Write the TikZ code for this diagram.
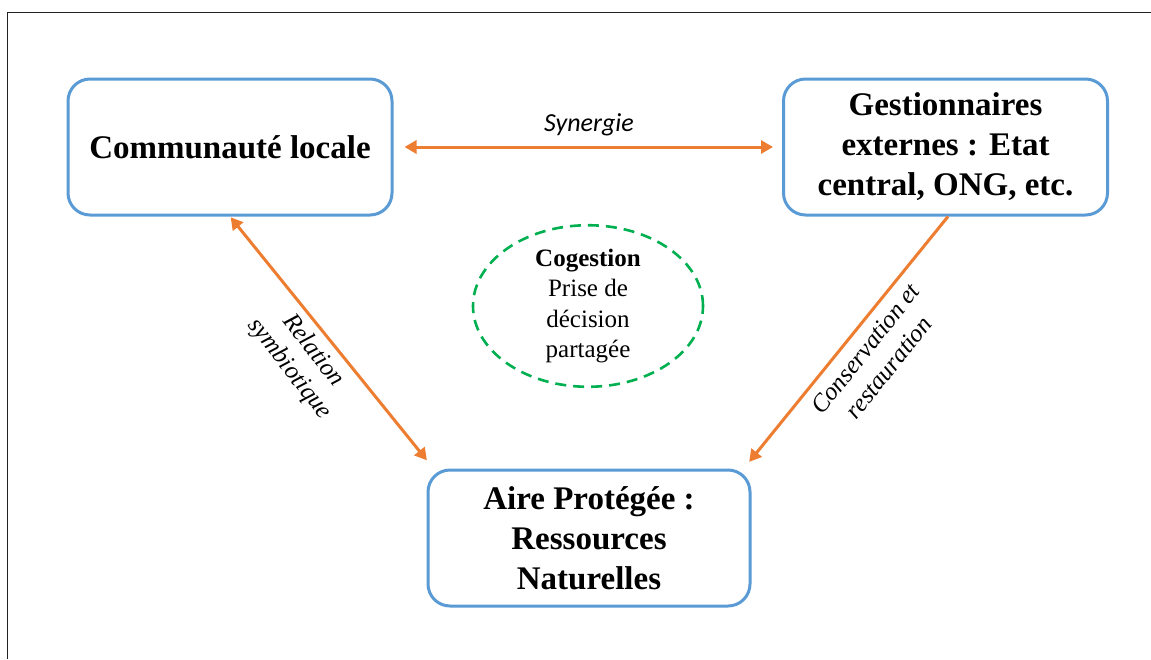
\documentclass[tikz,border=0pt]{standalone}
\usepackage{fontspec}
\setmainfont{Liberation Serif}
\newfontfamily\labfont{Carlito}
\usetikzlibrary{arrows.meta,shapes.geometric,calc}
\definecolor{boxblue}{HTML}{5B9BD5}
\definecolor{arrorange}{HTML}{ED7D31}
\definecolor{dashgreen}{HTML}{00B050}
\definecolor{framegray}{HTML}{222222}
\tikzset{
  mainbox/.style={draw=boxblue, line width=3pt, rounded corners=22pt, fill=white,
    minimum width=324pt, minimum height=136pt, align=center,
    font=\fontsize{33}{40}\selectfont\bfseries, inner sep=0pt},
  conn/.style={draw=arrorange, line width=3pt},
  tip/.tip={Triangle[length=12pt,width=13pt]},
  edgelabel/.style={font=\fontsize{25}{30}\selectfont\itshape, align=center, inner sep=0pt},
}
\begin{document}
\begin{tikzpicture}[x=1pt,y=1pt]
\useasboundingbox (0,0) rectangle (1151,-659);
\fill[white] (0,0) rectangle (1151,-659);
\draw[framegray, line width=1.5pt] (7.5,-659) -- (7.5,-12.5) -- (1151,-12.5);

\node[mainbox] (cl) at (230,-147) {Communauté locale};
\node[mainbox] (ge) at (945.5,-147) {Gestionnaires\\externes : Etat\\central, ONG, etc.};
\node[mainbox, minimum width=322pt] (ap) at (589,-538) {Aire Protégée :\\Ressources\\Naturelles};

\node[ellipse, draw=dashgreen, line width=2.6pt, dash pattern=on 11pt off 7pt,
  minimum width=230pt, minimum height=156pt, inner sep=0pt, align=center,
  font=\fontsize{25}{30.5}\selectfont] (cg) at (588,-306)
  {\textbf{Cogestion}\\Prise de\\décision\\partagée};

\draw[conn, {tip}-{tip}, shorten <=11pt, shorten >=9pt] (cl.east) -- (ge.west);
\node[font=\labfont\fontsize{26}{30}\selectfont\itshape, inner sep=0pt] (syn) at (589,-125) {Synergie};

\draw[conn, {tip}-{tip}, shorten <=1pt, shorten >=10.5pt] (cl.south) -- ($(ap.north west)+(7,0)$);
\node[edgelabel, rotate=-52] (rs) at (301,-360) {Relation\\symbiotique};

\draw[conn, -{tip}, shorten <=0pt, shorten >=8.5pt] ($(ge.south)+(2.5,0)$) -- ($(ap.north east)+(-7.7,0)$);
\node[edgelabel, rotate=51.4] (cr) at (877,-358) {Conservation et\\restauration};
\end{tikzpicture}
\end{document}
